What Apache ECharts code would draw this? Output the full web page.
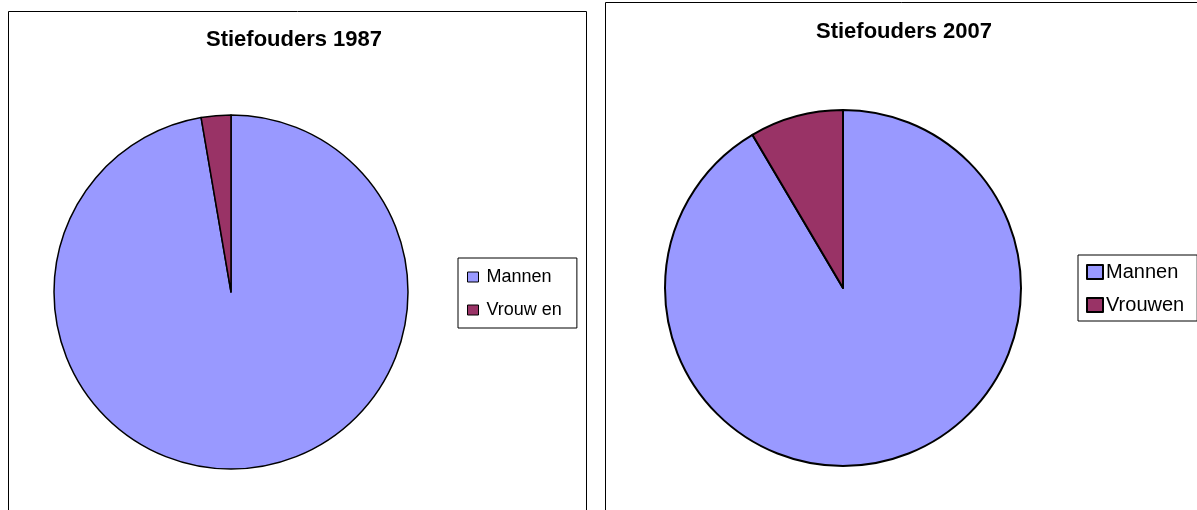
<!DOCTYPE html>
<html>
<head>
<meta charset="utf-8">
<script src="https://cdn.jsdelivr.net/npm/echarts@6/dist/echarts.min.js"></script>
<style>
  html, body { margin: 0; padding: 0; background: #fff; }
  #chart { width: 1197px; height: 510px; }
</style>
</head>
<body>
<div id="chart"></div>
<script>
let categories = ['Mannen', 'Vrouwen'];
let values1987 = [97.3, 2.7];
let values2007 = [91.5, 8.5];
let titles = ['Stiefouders 1987', 'Stiefouders 2007'];

let colors = ['#9999FF', '#993366'];

function pieData(vals) {
    return categories.map(function (c, i) {
        return {name: c, value: vals[i]};
    });
}

let chart = echarts.init(document.getElementById('chart'), null, {renderer: 'canvas'});
let option = {
    animation: false,
    color: colors,
    graphic: [
        {type: 'rect', shape: {x: 8.5, y: 11.5, width: 578, height: 520}, style: {fill: 'none', stroke: '#000', lineWidth: 1}},
        {type: 'rect', shape: {x: 605.5, y: 2.5, width: 620, height: 530}, style: {fill: 'none', stroke: '#000', lineWidth: 1}}
    ],
    title: [
        {text: titles[0], left: 289, top: 24, textAlign: 'center',
            textStyle: {fontFamily: 'Liberation Sans', fontWeight: 'bold', fontSize: 22, color: '#000'}},
        {text: titles[1], left: 899, top: 16, textAlign: 'center',
            textStyle: {fontFamily: 'Liberation Sans', fontWeight: 'bold', fontSize: 22, color: '#000'}}
    ],
    legend: [
        {
            orient: 'vertical', left: 458, top: 258,
            padding: [10, 15, 9, 9], itemGap: 15,
            itemWidth: 11, itemHeight: 10, icon: 'rect',
            borderColor: '#000', borderWidth: 1,
            data: categories,
            formatter: function (n) { return n === 'Vrouwen' ? 'Vrouw en' : n; },
            itemStyle: {borderColor: '#000', borderWidth: 1},
            textStyle: {fontFamily: 'Liberation Sans', fontSize: 18, color: '#000', padding: [0, 0, 0, 3]}
        },
        {
            orient: 'vertical', left: 1078, top: 255,
            padding: [7, 13, 6, 8], itemGap: 13,
            itemWidth: 16, itemHeight: 14, icon: 'rect',
            borderColor: '#000', borderWidth: 1,
            data: categories,
            itemStyle: {borderColor: '#000', borderWidth: 2},
            textStyle: {fontFamily: 'Liberation Sans', fontSize: 20, color: '#000', padding: [0, 0, 0, -2]}
        }
    ],
    series: [
        {
            type: 'pie', center: [231, 292], radius: 177,
            startAngle: 90, clockwise: true,
            label: {show: false}, labelLine: {show: false},
            emphasis: {disabled: true},
            itemStyle: {borderColor: '#000', borderWidth: 1.5},
            data: pieData(values1987)
        },
        {
            type: 'pie', center: [843, 288], radius: 178,
            startAngle: 90, clockwise: true,
            label: {show: false}, labelLine: {show: false},
            emphasis: {disabled: true},
            itemStyle: {borderColor: '#000', borderWidth: 2},
            data: pieData(values2007)
        }
    ]
};
chart.setOption(option);
</script>
</body>
</html>
